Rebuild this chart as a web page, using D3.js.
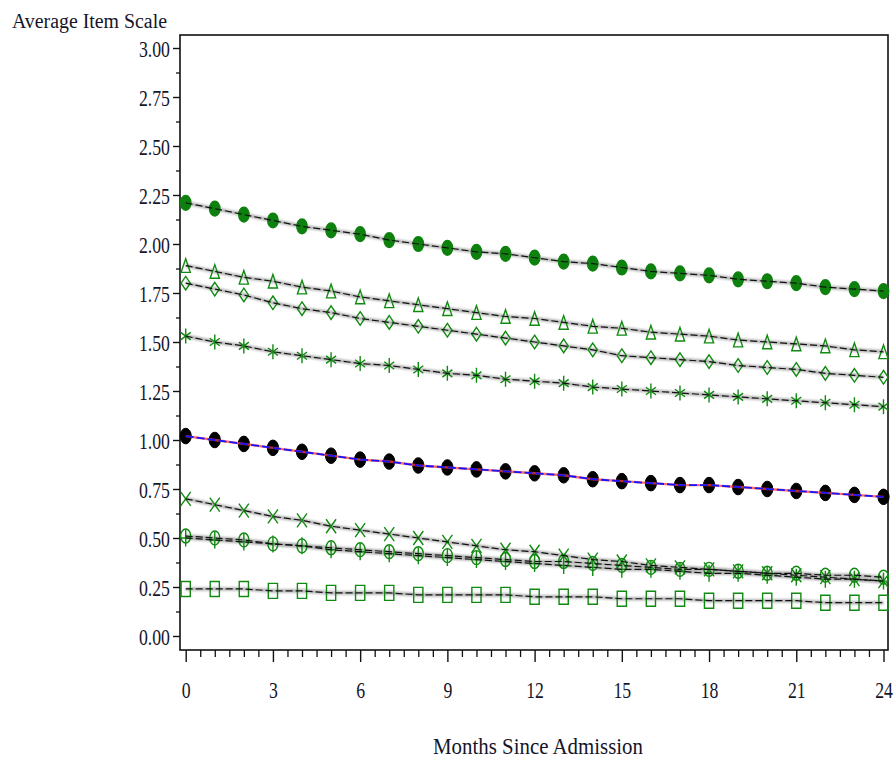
<!DOCTYPE html>
<html>
<head>
<meta charset="utf-8">
<script src="https://cdn.jsdelivr.net/npm/d3@7"></script>
<style>
  html, body { margin: 0; padding: 0; background: #fff; }
  svg { display: block; }
  text { font-family: "Liberation Serif", "Times New Roman", serif; fill: #15152a; }
</style>
</head>
<body>
<svg id="chart" width="893" height="761"></svg>
<script>
// Months since admission (0..24)
const months = d3.range(0, 25);

// Average item scale trajectories, one array per group
const filledCircle = [2.21,2.18,2.15,2.12,2.09,2.07,2.05,2.02,2.00,1.98,1.96,1.95,1.93,1.91,1.90,1.88,1.86,1.85,1.84,1.82,1.81,1.80,1.78,1.77,1.76];
const triangle     = [1.89,1.86,1.83,1.81,1.78,1.76,1.73,1.71,1.69,1.67,1.65,1.63,1.62,1.60,1.58,1.57,1.55,1.54,1.53,1.51,1.50,1.49,1.48,1.46,1.45];
const diamond      = [1.80,1.77,1.74,1.70,1.67,1.65,1.62,1.60,1.58,1.56,1.54,1.52,1.50,1.48,1.46,1.43,1.42,1.41,1.40,1.38,1.37,1.36,1.34,1.33,1.32];
const asterisk     = [1.53,1.50,1.48,1.45,1.43,1.41,1.39,1.38,1.36,1.34,1.33,1.31,1.30,1.29,1.27,1.26,1.25,1.24,1.23,1.22,1.21,1.20,1.19,1.18,1.17];
const overall      = [1.02,1.00,0.98,0.96,0.94,0.92,0.90,0.89,0.87,0.86,0.85,0.84,0.83,0.82,0.80,0.79,0.78,0.77,0.77,0.76,0.75,0.74,0.73,0.72,0.71];
const cross        = [0.70,0.67,0.64,0.61,0.59,0.56,0.54,0.52,0.50,0.48,0.46,0.44,0.43,0.41,0.39,0.38,0.36,0.35,0.34,0.33,0.32,0.31,0.30,0.29,0.28];
const openCircle   = [0.51,0.50,0.49,0.47,0.46,0.45,0.44,0.43,0.42,0.41,0.40,0.39,0.38,0.38,0.37,0.36,0.35,0.34,0.34,0.33,0.32,0.32,0.31,0.31,0.30];
const plusSign     = [0.50,0.49,0.48,0.47,0.46,0.44,0.43,0.42,0.41,0.40,0.39,0.38,0.37,0.36,0.35,0.34,0.34,0.33,0.32,0.32,0.31,0.30,0.29,0.29,0.28];
const square       = [0.24,0.24,0.24,0.23,0.23,0.22,0.22,0.22,0.21,0.21,0.21,0.21,0.20,0.20,0.20,0.19,0.19,0.19,0.18,0.18,0.18,0.18,0.17,0.17,0.17];

// Axis ticks
const yMajorTicks = [0, 0.25, 0.5, 0.75, 1, 1.25, 1.5, 1.75, 2, 2.25, 2.5, 2.75, 3];
const xMajorTicks = [0, 3, 6, 9, 12, 15, 18, 21, 24];

const svg = d3.select("#chart");
const frame = { left: 180, right: 888, top: 35, bottom: 650 };

const x = d3.scaleLinear().domain([0, 24]).range([185.7, 883.5]);
const y = d3.scaleLinear().domain([0, 3]).range([636, 48]);

const GREEN = "#118a11";
const SX = 0.74; // horizontal squeeze applied to glyphs

// Soft edge for the heavy markers
const defs = svg.append("defs");
defs.append("filter").attr("id", "soft")
  .attr("x", "-50%").attr("y", "-50%").attr("width", "200%").attr("height", "200%")
  .append("feGaussianBlur").attr("stdDeviation", 0.5);
defs.append("filter").attr("id", "band")
  .attr("x", "-5%").attr("y", "-50%").attr("width", "110%").attr("height", "200%")
  .append("feGaussianBlur").attr("stdDeviation", 0.8);

// ----- Axes -----
const yAxis = d3.axisLeft(y).tickValues(yMajorTicks).tickSize(7).tickPadding(3)
  .tickFormat(d3.format(".2f"));
const gy = svg.append("g").attr("transform", `translate(${frame.left},0)`).call(yAxis);
gy.select(".domain").remove();
gy.selectAll(".tick line").attr("stroke", "#111").attr("stroke-width", 1.4);
gy.selectAll(".tick text")
  .attr("font-family", "Liberation Serif, serif")
  .attr("font-size", 24)
  .attr("fill", "#15152a")
  .attr("x", -10 / SX)
  .attr("dy", "0.34em")
  .attr("transform", `scale(${SX},1)`);

const yMinor = d3.axisLeft(y).tickValues(yMajorTicks.slice(0, -1).map(d => d + 0.125))
  .tickSize(4).tickFormat("");
const gym = svg.append("g").attr("transform", `translate(${frame.left},0)`).call(yMinor);
gym.select(".domain").remove();
gym.selectAll(".tick line").attr("stroke", "#111").attr("stroke-width", 1.3);

const xAxis = d3.axisBottom(x).tickValues(xMajorTicks).tickSize(12).tickPadding(0)
  .tickFormat(d3.format("d"));
const gx = svg.append("g").attr("transform", `translate(0,${frame.bottom})`).call(xAxis);
gx.select(".domain").remove();
gx.selectAll(".tick line").attr("stroke", "#111").attr("stroke-width", 1.4);
gx.selectAll(".tick text")
  .attr("font-family", "Liberation Serif, serif")
  .attr("font-size", 24)
  .attr("fill", "#15152a")
  .attr("y", 48)
  .attr("dy", 0)
  .attr("transform", `scale(${SX},1)`)
  .attr("x", function() { return 0; });

// axisBottom puts each tick group at translate(x,0); scaling the text is about the group origin, so centred text stays centred
const xMinor = d3.axisBottom(x).tickValues(d3.range(0.5, 24, 0.5).filter(d => d % 3 !== 0))
  .tickSize(7).tickFormat("");
const gxm = svg.append("g").attr("transform", `translate(0,${frame.bottom})`).call(xMinor);
gxm.select(".domain").remove();
gxm.selectAll(".tick line").attr("stroke", "#111").attr("stroke-width", 1.3);

// Plot frame
svg.append("rect")
  .attr("x", frame.left).attr("y", frame.top)
  .attr("width", frame.right - frame.left).attr("height", frame.bottom - frame.top)
  .attr("fill", "none").attr("stroke", "#111").attr("stroke-width", 1.6);

// Axis titles
svg.append("text")
  .attr("x", 12).attr("y", 28)
  .attr("font-size", 20)
  .attr("textLength", 155).attr("lengthAdjust", "spacingAndGlyphs")
  .text("Average Item Scale");

svg.append("text")
  .attr("x", 433).attr("y", 754)
  .attr("font-size", 23)
  .attr("textLength", 210).attr("lengthAdjust", "spacingAndGlyphs")
  .text("Months Since Admission");

// ----- Marker shapes (a = half width, b = half height) -----
const shapes = {
  disc:     (a, b) => `M${-a},0 A${a},${b} 0 1,0 ${a},0 A${a},${b} 0 1,0 ${-a},0 Z`,
  ring:     (a, b) => `M${-a},0 A${a},${b} 0 1,0 ${a},0 A${a},${b} 0 1,0 ${-a},0 Z`,
  triangle: (a, b) => `M0,${-b} L${a},${b} L${-a},${b} Z`,
  diamond:  (a, b) => `M0,${-b} L${a},0 L0,${b} L${-a},0 Z`,
  square:   (a, b) => `M${-a},${-b} H${a} V${b} H${-a} Z`,
  star:     (a, b) => `M0,${-b} V${b} M${-a},${-b * 0.5} L${a},${b * 0.5} M${-a},${b * 0.5} L${a},${-b * 0.5}`,
  cross:    (a, b) => `M${-a},${-b} L${a},${b} M${-a},${b} L${a},${-b}`,
  plus:     (a, b) => `M0,${-b} V${b} M${-a},0 H${a}`
};

const groups = [
  { values: square,       shape: "square",   a: 4.6, b: 7.5, fill: "none", stroke: GREEN },
  { values: plusSign,     shape: "plus",     a: 5.0, b: 8.5, fill: "none", stroke: GREEN },
  { values: openCircle,   shape: "ring",     a: 5.0, b: 7.0, fill: "none", stroke: GREEN },
  { values: cross,        shape: "cross",    a: 5.0, b: 7.0, fill: "none", stroke: GREEN },
  { values: asterisk,     shape: "star",     a: 5.0, b: 7.5, fill: "none", stroke: GREEN },
  { values: diamond,      shape: "diamond",  a: 4.6, b: 6.8, fill: "none", stroke: GREEN },
  { values: triangle,     shape: "triangle", a: 4.6, b: 6.8, fill: "none", stroke: GREEN },
  { values: filledCircle, shape: "disc",     a: 5.2, b: 7.4, fill: "#0a800a", stroke: "#0a800a", soft: true }
];

const line = d3.line().x((d, i) => x(months[i])).y(d => y(d));

// Grey smoothing bands under every green group
const bands = svg.append("g");
groups.forEach(g => {
  bands.append("path").datum(g.values).attr("d", line)
    .attr("fill", "none").attr("stroke", "#b4b4b4").attr("stroke-width", 3.6)
    .attr("filter", "url(#band)");
});

// Markers
const marks = svg.append("g");
groups.forEach(g => {
  marks.append("g")
    .attr("filter", g.soft ? "url(#soft)" : null)
    .selectAll("path").data(g.values).join("path")
    .attr("transform", (d, i) => `translate(${x(months[i])},${y(d)})`)
    .attr("d", shapes[g.shape](g.a, g.b))
    .attr("fill", g.fill).attr("stroke", g.stroke).attr("stroke-width", 1.4);
});

// Overall trajectory: black markers with red and blue fitted lines
marks.append("g").attr("filter", "url(#soft)")
  .selectAll("path").data(overall).join("path")
  .attr("transform", (d, i) => `translate(${x(months[i])},${y(d)})`)
  .attr("d", shapes.disc(5.6, 7.8))
  .attr("fill", "#000").attr("stroke", "#000").attr("stroke-width", 1);

// Black dashed fitted lines on top of the green groups
const fits = svg.append("g");
groups.forEach(g => {
  fits.append("path").datum(g.values).attr("d", line)
    .attr("fill", "none").attr("stroke", "#111").attr("stroke-width", 1.2)
    .attr("stroke-dasharray", "7,3");
});

fits.append("path").datum(overall).attr("d", line)
  .attr("fill", "none").attr("stroke", "#ff3b3b").attr("stroke-width", 2.4)
  .attr("stroke-opacity", 0.75);
fits.append("path").datum(overall).attr("d", line)
  .attr("fill", "none").attr("stroke", "#1414ff").attr("stroke-width", 1.8)
  .attr("stroke-dasharray", "8,3");
</script>
</body>
</html>
